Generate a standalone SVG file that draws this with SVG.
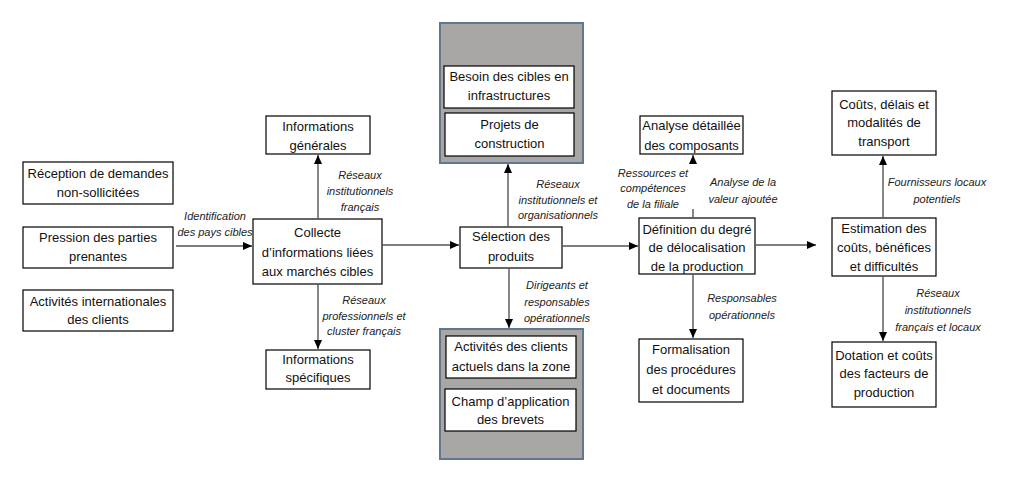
<svg xmlns="http://www.w3.org/2000/svg" width="1024" height="483" viewBox="0 0 1024 483">
<defs>
<marker id="arr" markerUnits="userSpaceOnUse" markerWidth="10" markerHeight="10" refX="9" refY="4" orient="auto">
<path d="M0,0 L9,4 L0,8 z" fill="#000"/>
</marker>
<style>
.box{fill:#fff;stroke:#000;stroke-width:1.2}
.grp{fill:#a9a6a6;stroke:#5f7890;stroke-width:2}
.t{font-family:"Liberation Sans",Arial,sans-serif;font-size:13px;fill:#111;text-anchor:middle}
.l{font-family:"Liberation Sans",Arial,sans-serif;font-size:11px;font-style:italic;fill:#222;text-anchor:middle}
.c{fill:none;stroke:#555;stroke-width:1.4;marker-end:url(#arr)}
</style>
</defs>
<rect width="1024" height="483" fill="#fff"/>

<g id="reception">
<rect class="box" x="23" y="162" width="150" height="42"/>
<text class="t" x="98" y="178">Réception de demandes</text>
<text class="t" x="98" y="197">non-sollicitées</text>
</g>
<g id="pression">
<rect class="box" x="23" y="227" width="150" height="41"/>
<text class="t" x="98" y="242">Pression des parties</text>
<text class="t" x="98" y="261">prenantes</text>
</g>
<g id="activites-int">
<rect class="box" x="23" y="290" width="150" height="41"/>
<text class="t" x="98" y="306">Activités internationales</text>
<text class="t" x="98" y="324">des clients</text>
</g>
<g id="collecte">
<rect class="box" x="253" y="219" width="129" height="65"/>
<text class="t" x="317.5" y="237">Collecte</text>
<text class="t" x="317.5" y="257">d’informations liées</text>
<text class="t" x="317.5" y="276">aux marchés cibles</text>
</g>
<g id="info-generales">
<rect class="box" x="266" y="116" width="104" height="38"/>
<text class="t" x="318" y="131">Informations</text>
<text class="t" x="318" y="150">générales</text>
</g>
<g id="info-specifiques">
<rect class="box" x="266" y="350" width="104" height="39"/>
<text class="t" x="318" y="364">Informations</text>
<text class="t" x="318" y="382">spécifiques</text>
</g>
<g id="groupe-haut">
<rect class="grp" x="440" y="23" width="143" height="140"/>
<rect class="box" x="444" y="66" width="130" height="42"/>
<text class="t" x="509" y="81">Besoin des cibles en</text>
<text class="t" x="509" y="100">infrastructures</text>
<rect class="box" x="445" y="113" width="129" height="43"/>
<text class="t" x="509.5" y="129">Projets de</text>
<text class="t" x="509.5" y="148">construction</text>
</g>
<g id="selection">
<rect class="box" x="460" y="227" width="102" height="41"/>
<text class="t" x="511" y="241">Sélection des</text>
<text class="t" x="511" y="261">produits</text>
</g>
<g id="groupe-bas">
<rect class="grp" x="440" y="329" width="143" height="130"/>
<rect class="box" x="446" y="336" width="130" height="42"/>
<text class="t" x="511" y="351">Activités des clients</text>
<text class="t" x="511" y="371">actuels dans la zone</text>
<rect class="box" x="445" y="389" width="131" height="42"/>
<text class="t" x="510.5" y="406">Champ d’application</text>
<text class="t" x="510.5" y="424">des brevets</text>
</g>
<g id="analyse-detaillee">
<rect class="box" x="640" y="116" width="103" height="38"/>
<text class="t" x="691.5" y="130">Analyse détaillée</text>
<text class="t" x="691.5" y="150">des composants</text>
</g>
<g id="definition">
<rect class="box" x="639" y="218" width="116" height="56"/>
<text class="t" x="697" y="234">Définition du degré</text>
<text class="t" x="697" y="252">de délocalisation</text>
<text class="t" x="697" y="271">de la production</text>
</g>
<g id="formalisation">
<rect class="box" x="639" y="339" width="104" height="63"/>
<text class="t" x="691" y="354">Formalisation</text>
<text class="t" x="691" y="374">des procédures</text>
<text class="t" x="691" y="394">et documents</text>
</g>
<g id="couts-transport">
<rect class="box" x="832" y="91" width="104" height="64"/>
<text class="t" x="884" y="109">Coûts, délais et</text>
<text class="t" x="884" y="127">modalités de</text>
<text class="t" x="884" y="146">transport</text>
</g>
<g id="estimation">
<rect class="box" x="832" y="218" width="104" height="58"/>
<text class="t" x="884" y="233">Estimation des</text>
<text class="t" x="884" y="252">coûts, bénéfices</text>
<text class="t" x="884" y="271">et difficultés</text>
</g>
<g id="dotation">
<rect class="box" x="832" y="342" width="104" height="65"/>
<text class="t" x="884" y="360">Dotation et coûts</text>
<text class="t" x="884" y="378">des facteurs de</text>
<text class="t" x="884" y="397">production</text>
</g>

<g id="connectors">
<path class="c" d="M176,246 H252"/>
<path class="c" d="M318,219 V155"/>
<path class="c" d="M318,284 V349"/>
<path class="c" d="M382,245 H459"/>
<path class="c" d="M508,227 V164"/>
<path class="c" d="M509,268 V328"/>
<path class="c" d="M562,246 H638"/>
<path class="c" d="M693,218 V209 M693,162 V155"/>
<path class="c" d="M693,274 V338"/>
<path class="c" d="M755,245 H816"/>
<path class="c" d="M883,218 V156"/>
<path class="c" d="M883,276 V341"/>
</g>

<g id="labels">
<text class="l" x="215" y="220">Identification</text>
<text class="l" x="215" y="236">des pays cibles</text>
<text class="l" x="360" y="178.5">Réseaux</text>
<text class="l" x="360" y="194.5">institutionnels</text>
<text class="l" x="360" y="210.5">français</text>
<text class="l" x="364" y="303.5">Réseaux</text>
<text class="l" x="364" y="319.5">professionnels et</text>
<text class="l" x="364" y="334.5">cluster français</text>
<text class="l" x="558" y="187.5">Réseaux</text>
<text class="l" x="558" y="203.5">institutionnels et</text>
<text class="l" x="558" y="218.5">organisationnels</text>
<text class="l" x="557" y="288.5">Dirigeants et</text>
<text class="l" x="557" y="305.5">responsables</text>
<text class="l" x="557" y="321.5">opérationnels</text>
<text class="l" x="653" y="176.5">Ressources et</text>
<text class="l" x="653" y="191.5">compétences</text>
<text class="l" x="653" y="207.5">de la filiale</text>
<text class="l" x="743" y="185.5">Analyse de la</text>
<text class="l" x="743" y="202.5">valeur ajoutée</text>
<text class="l" x="742" y="301.5">Responsables</text>
<text class="l" x="742" y="318.5">opérationnels</text>
<text class="l" x="937" y="185.5">Fournisseurs locaux</text>
<text class="l" x="937" y="202.5">potentiels</text>
<text class="l" x="938" y="296.5">Réseaux</text>
<text class="l" x="938" y="313.5">institutionnels</text>
<text class="l" x="938" y="330.5">français et locaux</text>
</g>
</svg>
